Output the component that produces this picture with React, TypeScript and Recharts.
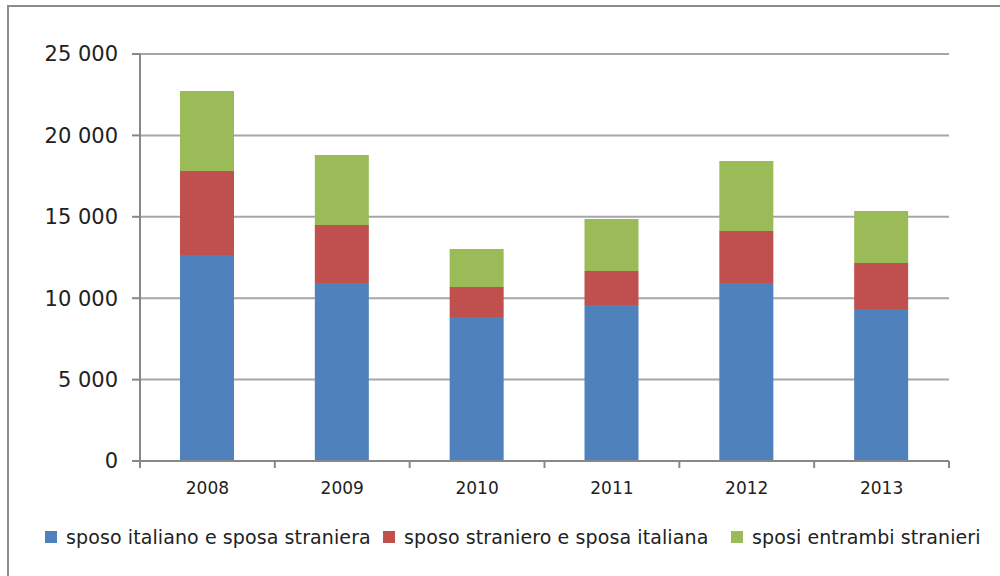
import React from "react";
import { BarChart, Bar, XAxis, YAxis, CartesianGrid } from "recharts";

const years = ["2008", "2009", "2010", "2011", "2012", "2013"];
const italianoStraniera = [12650, 10930, 8850, 9580, 10930, 9340];
const stranieroItaliana = [5160, 3570, 1840, 2090, 3200, 2820];
const entrambiStranieri = [4920, 4300, 2330, 3190, 4300, 3200];
const yTicks = [0, 5000, 10000, 15000, 20000, 25000];

const seriesNames = [
  "sposo italiano e sposa straniera",
  "sposo straniero e sposa italiana",
  "sposi entrambi stranieri",
];
const colors = ["#4F81BD", "#C0504D", "#9BBB59"];

const data = years.map((y, i) => ({
  year: y,
  a: italianoStraniera[i],
  b: stranieroItaliana[i],
  c: entrambiStranieri[i],
}));

const fmt = (v: number) => {
  if (v === 0) return "0";
  const s = String(v);
  return s.slice(0, s.length - 3) + " " + s.slice(s.length - 3);
};

const FONT = "'DejaVu Sans', Verdana, sans-serif";

const XTick = (props: any) => {
  const { x, y, payload, index } = props;
  const half = payload && payload.offset ? payload.offset : 67.4;
  return (
    <g>
      <line x1={x - half} y1={y - 8} x2={x - half} y2={y - 1} stroke="#888" strokeWidth={2} />
      {index === years.length - 1 && (
        <line x1={x + half} y1={y - 8} x2={x + half} y2={y - 1} stroke="#888" strokeWidth={2} />
      )}
      <text x={x} y={y + 25} textAnchor="middle" fontSize={17} fontFamily={FONT} fill="#222">
        {payload.value}
      </text>
    </g>
  );
};

const LegendRow = () => {
  const positions = [45, 383, 731];
  return (
    <div style={{ position: "absolute", top: 526, left: 0, width: 1000, height: 24 }}>
      {seriesNames.map((n, i) => (
        <div
          key={n}
          style={{
            position: "absolute",
            left: positions[i],
            top: 0,
            display: "flex",
            alignItems: "center",
            fontFamily: FONT,
            fontSize: 19,
            letterSpacing: 0.1,
            color: "#222",
            whiteSpace: "nowrap",
          }}
        >
          <span style={{ display: "inline-block", width: 12, height: 12, background: colors[i], marginRight: 9 }} />
          {n}
        </div>
      ))}
    </div>
  );
};

export default function App() {
  return (
    <div style={{ position: "absolute", left: 0, top: 0, width: 1000, height: 576, background: "#fff", overflow: "hidden" }}>
      <div
        style={{
          position: "absolute",
          left: 7,
          top: 5,
          width: 1010,
          height: 600,
          border: "2px solid #8c8c8c",
          boxSizing: "border-box",
        }}
      />
      <div style={{ position: "absolute", left: 0, top: 0 }}>
        <BarChart
          width={1000}
          height={576}
          data={data}
          margin={{ top: 54, right: 51, bottom: 0, left: 0 }}
          barSize={54}
        >
          <CartesianGrid vertical={false} stroke="#a6a6a6" strokeWidth={2} />
          <XAxis
            dataKey="year"
            tick={<XTick />}
            tickLine={false}
            axisLine={{ stroke: "#888", strokeWidth: 2 }}
            interval={0}
            height={115}
          />
          <YAxis
            width={140}
            domain={[0, 25000]}
            ticks={yTicks}
            tickFormatter={fmt}
            tickSize={8}
            tickMargin={14}
            tickLine={{ stroke: "#888", strokeWidth: 2 }}
            axisLine={{ stroke: "#888", strokeWidth: 2 }}
            tick={{ fontSize: 21, fontFamily: FONT, fill: "#222" }}
          />
          <Bar dataKey="a" stackId="s" fill={colors[0]} isAnimationActive={false} />
          <Bar dataKey="b" stackId="s" fill={colors[1]} isAnimationActive={false} />
          <Bar dataKey="c" stackId="s" fill={colors[2]} isAnimationActive={false} />
        </BarChart>
      </div>
      <LegendRow />
    </div>
  );
}
